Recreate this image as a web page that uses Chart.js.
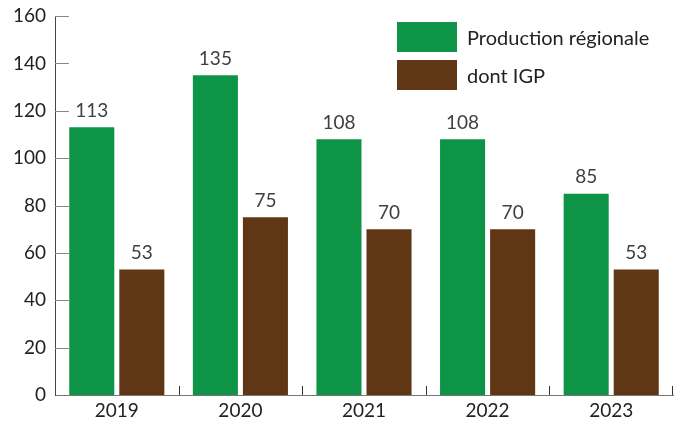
<!DOCTYPE html>
<html>
<head>
<meta charset="utf-8">
<script src="https://cdn.jsdelivr.net/npm/chart.js@4/dist/chart.umd.min.js"></script>
<style>
   html, body { margin: 0; padding: 0; background: #fff; }
   #wrap { position: relative; width: 674px; height: 423px; }
   #legend { position: absolute; left: 397px; top: 22px; font-family: Lato, sans-serif; font-size: 20px; color: #222; }
   .item { display: flex; align-items: center; height: 30px; margin-bottom: 8px; }
   .box { width: 60px; height: 30px; margin-right: 10px; }
</style>
</head>
<body>
<div id="wrap">
   <canvas id="myChart" width="674" height="423"></canvas>
   <div id="legend"></div>
</div>
<script>
"use strict";

const years = ["2019", "2020", "2021", "2022", "2023"];
const production = [113, 135, 108, 108, 85];
const igp = [53, 75, 70, 70, 53];
const seriesNames = ["Production régionale", "dont IGP"];
const seriesColors = ["#0e9447", "#5f3714"];

// inward tick marks on both axes + value labels above bars
const axisMarks = {
   id: "axisMarks",
   afterDatasetsDraw(chart) {
      const c = chart.ctx;
      const y = chart.scales.y;
      const x = chart.scales.x;
      const area = chart.chartArea;
      c.save();
      c.lineWidth = 1;
      c.strokeStyle = "#888";
      y.ticks.forEach((t) => {
         if (t.value === 0) return;
         const py = Math.round(y.getPixelForValue(t.value)) + 0.5;
         c.beginPath();
         c.moveTo(area.left, py);
         c.lineTo(area.left + 14, py);
         c.stroke();
      });
      c.strokeStyle = "#333";
      for (let i = 1; i <= years.length; i++) {
         let px;
         if (i === years.length) px = area.right - 0.5;
         else px = Math.round((x.getPixelForValue(i - 1) + x.getPixelForValue(i)) / 2) + 0.5;
         c.beginPath();
         c.moveTo(px, area.bottom);
         c.lineTo(px, area.bottom - 9);
         c.stroke();
      }
      c.fillStyle = "#404040";
      c.font = "19px Lato";
      c.textAlign = "center";
      c.textBaseline = "bottom";
      chart.data.datasets.forEach((ds, di) => {
         chart.getDatasetMeta(di).data.forEach((bar, i) => {
            c.fillText(String(ds.data[i]), bar.x, bar.y - 7);
         });
      });
      c.restore();
   },
};

const ctx = document.getElementById("myChart").getContext("2d");
const myChart = new Chart(ctx, {
   type: "bar",
   data: {
      labels: years,
      datasets: [
         {
            label: seriesNames[0],
            data: production,
            backgroundColor: seriesColors[0],
         },
         {
            label: seriesNames[1],
            data: igp,
            backgroundColor: seriesColors[1],
         },
      ],
   },
   options: {
      responsive: false,
      animation: false,
      categoryPercentage: 0.81,
      barPercentage: 0.9,
      layout: { padding: { top: 16, right: 1, left: 0, bottom: 0 } },
      plugins: {
         legend: { display: false },
         tooltip: { enabled: false },
      },
      scales: {
         x: {
            grid: { display: false, drawTicks: false },
            border: { display: true, color: "#777", width: 1 },
            ticks: { color: "#222", font: { family: "Lato", size: 19 }, padding: 4 },
            afterFit(scale) { scale.height = 28; },
         },
         y: {
            min: 0,
            max: 160,
            ticks: { stepSize: 20, color: "#222", font: { family: "Lato", size: 19 }, padding: 9 },
            grid: { display: false, drawTicks: false },
            border: { display: true, color: "#444", width: 1 },
            afterFit(scale) {
               scale.width = 55;
               scale.paddingTop = 0;
               scale.paddingBottom = 0;
            },
         },
      },
   },
   plugins: [axisMarks],
});

const legend = document.getElementById("legend");
seriesNames.forEach((name, i) => {
   const item = document.createElement("div");
   item.className = "item";
   const box = document.createElement("span");
   box.className = "box";
   box.style.background = seriesColors[i];
   const txt = document.createElement("span");
   txt.textContent = name;
   item.appendChild(box);
   item.appendChild(txt);
   legend.appendChild(item);
});
</script>
</body>
</html>
